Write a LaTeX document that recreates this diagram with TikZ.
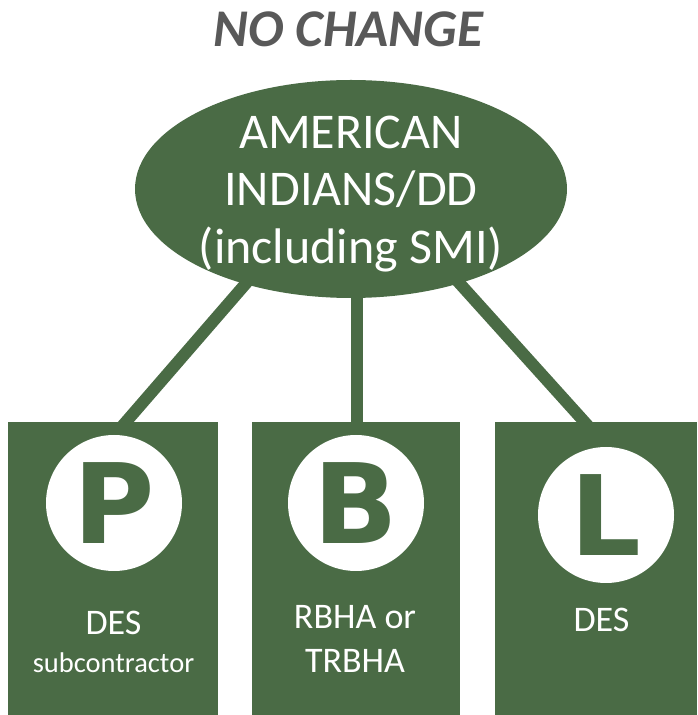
\documentclass[tikz,border=0pt]{standalone}
\usepackage{fontspec}
\setmainfont{Carlito}
\newfontfamily\badgefont{DejaVu Sans}
\usepackage{tikz}
\usetikzlibrary{calc}
\usetikzlibrary{positioning, shapes.geometric, backgrounds}
\definecolor{leaf}{RGB}{74,107,69}
\definecolor{slate}{RGB}{89,89,89}

\begin{document}
\begin{tikzpicture}[
  x=1pt, y=1pt,
  every node/.style={align=center, inner sep=0pt},
  bubble/.style={ellipse, fill=leaf, minimum width=432pt, minimum height=218pt},
  panel/.style={rectangle, fill=leaf, anchor=south west, minimum height=293pt},
  badge/.style={circle, fill=white, minimum size=136pt, text=leaf, font=\badgefont\bfseries\fontsize{111}{111}\selectfont},
  lbl/.style={text=white, anchor=base, font=\fontsize{36}{44}\selectfont},
  link/.style={draw=leaf, line width=12pt, shorten <=-15pt, shorten >=-8pt}
]
\useasboundingbox (0,0) rectangle (697,715);

\node[font=\bfseries\itshape\fontsize{53}{53}\selectfont, text=slate, anchor=base] (heading) at (348.5,668) {NO CHANGE};

\node[bubble] (ai) at (351,526) {};
\node[text=white, font=\fontsize{50}{57.5}\selectfont] (aitext) at (351,521) {AMERICAN\\INDIANS/DD\\(including SMI)};

\node[panel, minimum width=210pt] (pbox) at (8,0) {};
\node[panel, minimum width=208pt] (bbox) at (252,0) {};
\node[panel, minimum width=202pt] (lbox) at (495,0) {};

\node[badge] (pmark) at (114,212) {P};
\node[badge] (bmark) at (356,212) {B};
\node[badge] (lmark) at (606,200) {L};

\node[lbl] (pdes) at (113.5,80) {DES};
\node[lbl, font=\fontsize{28.5}{34}\selectfont] (psub) at (113.5,42) {subcontractor};
\node[lbl] (bname) at (355,86) {RBHA or};
\node[lbl] (bname2) at (355,42) {TRBHA};
\node[lbl] (ldes) at (601.5,83) {DES};

\begin{scope}[on background layer]
\draw[link] (ai.222) -- ([xshift=13pt]pbox.north);
\draw[link] ([xshift=1pt]bbox.north |- ai.south) -- ([xshift=1pt]bbox.north);
\draw[link] (ai.319) -- ([xshift=-12pt]lbox.north);
\end{scope}
\end{tikzpicture}
\end{document}
